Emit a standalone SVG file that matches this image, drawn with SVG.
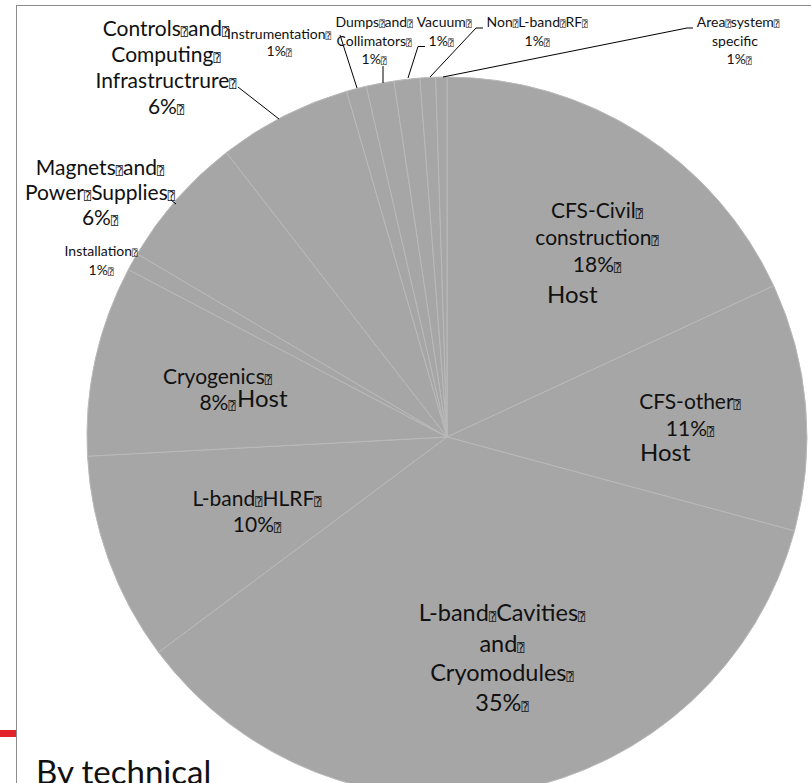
<svg xmlns="http://www.w3.org/2000/svg" width="811" height="783" viewBox="0 0 811 783">
<style>
.sl{fill:#a6a6a6;stroke:#b9b9b9;stroke-width:1;stroke-linejoin:round}
.t{font-family:Lato,"Open Sans","DejaVu Sans Mono",sans-serif;fill:#111;text-anchor:middle}
.b{font-size:21px}
.s{font-size:14px}
.h{font-family:Lato,"Open Sans",sans-serif;font-size:24px;fill:#111}
.q{font-family:"DejaVu Sans Mono","DejaVu Sans",monospace}
.b .q{font-size:12px}
.s .q{font-size:9px}
.ld{fill:none;stroke:#000;stroke-width:1}
</style>
<defs>
<filter id="soft" x="-5%" y="-5%" width="110%" height="110%"><feGaussianBlur stdDeviation="0.6"/></filter>
</defs>
<rect width="811" height="783" fill="#fff"/>
<line x1="16" y1="5.5" x2="811" y2="5.5" stroke="#8c8c8c" stroke-width="1"/>
<line x1="16.5" y1="5" x2="16.5" y2="783" stroke="#8c8c8c" stroke-width="1"/>
<rect x="0" y="730" width="16" height="7" fill="#e3232c"/>
<g id="pie" filter="url(#soft)">
<path id="s-civil" class="sl" d="M447,437 L447,77 A360,360 0 0 1 773.7,285.8 Z"/>
<path id="s-other" class="sl" d="M447,437 L773.7,285.8 A360,360 0 0 1 794.5,530.9 Z"/>
<path id="s-cav" class="sl" d="M447,437 L794.5,530.9 A360,360 0 0 1 158.5,652.3 Z"/>
<path id="s-hlrf" class="sl" d="M447,437 L158.5,652.3 A360,360 0 0 1 87.5,456.2 Z"/>
<path id="s-cryo" class="sl" d="M447,437 L87.5,456.2 A360,360 0 0 1 128.3,269.6 Z"/>
<path id="s-inst" class="sl" d="M447,437 L128.3,269.6 A360,360 0 0 1 137.2,253.8 Z"/>
<path id="s-mag" class="sl" d="M447,437 L137.2,253.8 A360,360 0 0 1 226.4,152.5 Z"/>
<path id="s-ctrl" class="sl" d="M447,437 L226.4,152.5 A360,360 0 0 1 346.6,91.3 Z"/>
<path id="s-instr" class="sl" d="M447,437 L346.6,91.3 A360,360 0 0 1 366.3,86.2 Z"/>
<path id="s-dump" class="sl" d="M447,437 L366.3,86.2 A360,360 0 0 1 393.9,81.1 Z"/>
<path id="s-vac" class="sl" d="M447,437 L393.9,81.1 A360,360 0 0 1 419.9,78 Z"/>
<path id="s-nonl" class="sl" d="M447,437 L419.9,78 A360,360 0 0 1 435.7,77.2 Z"/>
<path id="s-area" class="sl" d="M447,437 L435.7,77.2 A360,360 0 0 1 447,77 Z"/>
</g>
<g id="connectors">
<line class="ld" x1="238" y1="87" x2="279" y2="119"/>
<line class="ld" x1="340" y1="35" x2="357" y2="88"/>
<line class="ld" x1="383" y1="66" x2="383" y2="83"/>
<polyline class="ld" points="425,46.5 418,46.5 408,78"/>
<polyline class="ld" points="483,28 476,28 430,77"/>
<polyline class="ld" points="693,28 687,28 443,77"/>
<line class="ld" x1="171" y1="200" x2="176" y2="204"/>
</g>
<g id="n-controls" class="t b">
<text x="166" y="35.5">Controls<tspan class="q">⍰</tspan>and<tspan class="q">⍰</tspan></text>
<text x="166" y="61.5">Computing<tspan class="q">⍰</tspan></text>
<text x="166" y="87.5">Infrastructrure<tspan class="q">⍰</tspan></text>
<text x="166" y="113.5">6%<tspan class="q">⍰</tspan></text>
</g>
<g id="n-magnets" class="t b">
<text x="100" y="175">Magnets<tspan class="q">⍰</tspan>and<tspan class="q">⍰</tspan></text>
<text x="100" y="200">Power<tspan class="q">⍰</tspan>Supplies<tspan class="q">⍰</tspan></text>
<text x="100" y="225">6%<tspan class="q">⍰</tspan></text>
</g>
<g id="n-installation" class="t s">
<text x="101" y="256">Installation<tspan class="q">⍰</tspan></text>
<text x="101" y="275">1%<tspan class="q">⍰</tspan></text>
</g>
<g id="n-instrumentation" class="t s">
<text x="279" y="39">Instrumentation<tspan class="q">⍰</tspan></text>
<text x="279" y="56">1%<tspan class="q">⍰</tspan></text>
</g>
<g id="n-dumps" class="t s">
<text x="374" y="27">Dumps<tspan class="q">⍰</tspan>and<tspan class="q">⍰</tspan></text>
<text x="374" y="45.5">Collimators<tspan class="q">⍰</tspan></text>
<text x="374" y="64">1%<tspan class="q">⍰</tspan></text>
</g>
<g id="n-vacuum" class="t s">
<text x="444" y="27">Vacuum<tspan class="q">⍰</tspan></text>
<text x="441" y="45.5">1%<tspan class="q">⍰</tspan></text>
</g>
<g id="n-nonlband" class="t s">
<text x="537" y="27">Non<tspan class="q">⍰</tspan>L-band<tspan class="q">⍰</tspan>RF<tspan class="q">⍰</tspan></text>
<text x="537" y="45.5">1%<tspan class="q">⍰</tspan></text>
</g>
<g id="n-area" class="t s">
<text x="738" y="27">Area<tspan class="q">⍰</tspan>system<tspan class="q">⍰</tspan></text>
<text x="735" y="45.5">specific</text>
<text x="739" y="64">1%<tspan class="q">⍰</tspan></text>
</g>
<g id="n-cfscivil" class="t b">
<text x="597" y="218">CFS-Civil<tspan class="q">⍰</tspan></text>
<text x="597" y="245">construction<tspan class="q">⍰</tspan></text>
<text x="597" y="272">18%<tspan class="q">⍰</tspan></text>
<text class="h" x="547" y="303" text-anchor="start">Host</text>
</g>
<g id="n-cfsother" class="t b">
<text x="690" y="409">CFS-other<tspan class="q">⍰</tspan></text>
<text x="690" y="436">11%<tspan class="q">⍰</tspan></text>
<text class="h" x="640" y="461" text-anchor="start">Host</text>
</g>
<g id="n-cryogenics" class="t b">
<text x="217.5" y="384">Cryogenics<tspan class="q">⍰</tspan></text>
<text x="217.5" y="410">8%<tspan class="q">⍰</tspan></text>
<text class="h" x="237" y="407" text-anchor="start">Host</text>
</g>
<g id="n-hlrf" class="t b">
<text x="257" y="506">L-band<tspan class="q">⍰</tspan>HLRF<tspan class="q">⍰</tspan></text>
<text x="257" y="532">10%<tspan class="q">⍰</tspan></text>
</g>
<g id="n-cavities" class="t b" style="font-size:23.5px">
<text x="502" y="621">L-band<tspan class="q">⍰</tspan>Cavities<tspan class="q">⍰</tspan></text>
<text x="502" y="651.5">and<tspan class="q">⍰</tspan></text>
<text x="502" y="681">Cryomodules<tspan class="q">⍰</tspan></text>
<text x="502" y="711">35%<tspan class="q">⍰</tspan></text>
</g>
<text id="title" x="36" y="784" style="font-family:Lato,'Open Sans',sans-serif;font-size:33px;fill:#111">By technical</text>
</svg>
